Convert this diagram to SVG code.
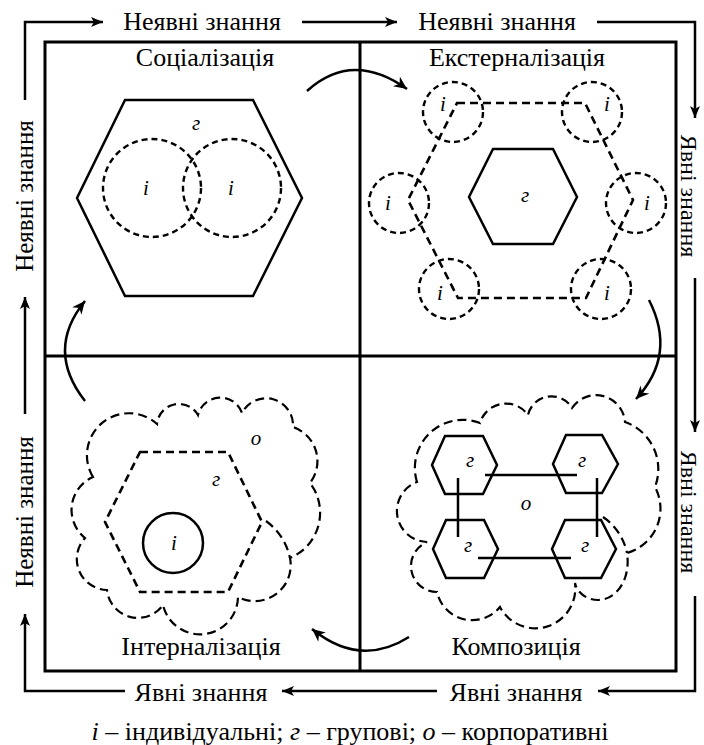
<svg xmlns="http://www.w3.org/2000/svg" width="704" height="745" viewBox="0 0 704 745">
<defs>
<style>
text{font-family:"Liberation Serif","Times New Roman",serif;fill:#000}
.t{font-size:26px;text-anchor:middle}
.tr{font-size:25px;text-anchor:middle}
.tr2{font-size:24px;text-anchor:middle}
.it{font-size:21px;font-style:italic;text-anchor:middle}
.ln{fill:none;stroke:#000;stroke-width:2.5}
.fr{fill:none;stroke:#000;stroke-width:3}
.dc{fill:none;stroke:#000;stroke-width:2.4;stroke-dasharray:6 4}
.dh{fill:none;stroke:#000;stroke-width:2.6;stroke-dasharray:8 5}
.cl{fill:none;stroke:#000;stroke-width:2.2;stroke-dasharray:9 5}
.arr{fill:none;stroke:#000;stroke-width:2.5;marker-end:url(#ah)}
.carr{fill:none;stroke:#000;stroke-width:2.5;marker-end:url(#ch)}
</style>
<marker id="ah" markerUnits="userSpaceOnUse" markerWidth="14" markerHeight="12" refX="12" refY="5" orient="auto">
<path d="M0,0 L12,5 L0,10 L3,5 Z" fill="#000"/>
</marker>
<marker id="ch" markerUnits="userSpaceOnUse" markerWidth="16" markerHeight="14" refX="13" refY="6" orient="auto">
<path d="M0,0 L13,6 L0,12 L4,6 Z" fill="#000"/>
</marker>
</defs>
<rect width="704" height="745" fill="#fff"/>

<g id="frame">
<rect class="fr" x="45" y="42" width="631" height="629"/>
<line class="fr" x1="360" y1="42" x2="360" y2="671"/>
<line class="fr" x1="45" y1="356" x2="676" y2="356"/>
</g>

<g id="connectors">
<polyline class="arr" points="25,100 25,22 103,22"/>
<line class="arr" x1="302" y1="22" x2="397" y2="22"/>
<polyline class="arr" points="597,22 695,22 695,118"/>
<line class="arr" x1="695" y1="278" x2="695" y2="432"/>
<polyline class="arr" points="695,596 695,691 598,691"/>
<line class="arr" x1="437" y1="691" x2="282" y2="691"/>
<polyline class="arr" points="125,691 25,691 25,614"/>
<line class="arr" x1="25" y1="414" x2="25" y2="297"/>
<path class="carr" d="M307,91 Q352,50 407,89"/>
<path class="carr" d="M649,300 Q677,355 636,399"/>
<path class="carr" d="M409,637 Q360,668 312,629"/>
<path class="carr" d="M85,401 Q45,350 85,301"/>
</g>

<g id="outer-labels">
<text class="t" x="202" y="30">Неявні знання</text>
<text class="t" x="497" y="30">Неявні знання</text>
<text class="t" x="201" y="701">Явні знання</text>
<text class="t" x="516" y="701">Явні знання</text>
<text class="tr" transform="translate(33,196) rotate(-90)">Неявні знання</text>
<text class="tr" transform="translate(33,512) rotate(-90)">Неявні знання</text>
<text class="tr2" transform="translate(681,196) rotate(90)">Явні знання</text>
<text class="tr2" transform="translate(681,512) rotate(90)">Явні знання</text>
</g>

<g id="socialization">
<text class="t" x="205" y="66">Соціалізація</text>
<polygon class="ln" points="125,100 253,100 302,198 253,296 125,296 77,198"/>
<circle class="dc" cx="152" cy="188" r="49"/>
<circle class="dc" cx="232" cy="188" r="49"/>
<text class="it" x="196" y="130">г</text>
<text class="it" x="146" y="195">i</text>
<text class="it" x="231" y="195">i</text>
</g>

<g id="externalization">
<text class="t" x="517" y="66">Екстерналізація</text>
<polygon class="dh" points="457,103 585,103 633,200 586,298 458,298 408,200"/>
<circle class="dc" cx="453" cy="112" r="30"/>
<circle class="dc" cx="592" cy="112" r="30"/>
<circle class="dc" cx="399" cy="203" r="30"/>
<circle class="dc" cx="636" cy="203" r="30"/>
<circle class="dc" cx="449" cy="289" r="30"/>
<circle class="dc" cx="601" cy="289" r="30"/>
<polygon class="ln" points="493,149 553,149 577,197 553,244 493,244 469,197"/>
<text class="it" x="525" y="202">г</text>
<text class="it" x="443" y="111">i</text>
<text class="it" x="607" y="111">i</text>
<text class="it" x="388" y="210">i</text>
<text class="it" x="647" y="210">i</text>
<text class="it" x="440" y="300">i</text>
<text class="it" x="607" y="300">i</text>
</g>

<g id="internalization">
<text class="t" x="201" y="655">Інтерналізація</text>
<path class="cl" d="M93,477 A42,42 0 0 1 157,424 A22,22 0 0 1 198,415 A23,23 0 0 1 242,413 A27,27 0 0 1 293,427 A36,36 0 0 1 310,483 A49,49 0 0 1 290,558 A36,36 0 0 1 238,597 A38,38 0 0 1 163,605 A31,31 0 0 1 107,590 A31,31 0 0 1 85,538 A36,36 0 0 1 93,477 Z"/>
<path class="cl" d="M266,521 Q285,535 290,558"/>
<polygon class="dh" points="140,452 228,452 262,522 228,592 140,592 105,522"/>
<circle class="ln" cx="173" cy="543" r="30"/>
<text class="it" x="256" y="445">о</text>
<text class="it" x="216" y="486">г</text>
<text class="it" x="174" y="550">i</text>
</g>

<g id="composition">
<text class="t" x="516" y="655">Композиція</text>
<path class="cl" d="M417,482 A48,48 0 0 1 480,423 A27,27 0 0 1 528,415 A24,24 0 0 1 572,408 A29,29 0 0 1 625,422 A50,50 0 0 1 655,487 A46,46 0 0 1 627,553 C631,580 616,600 598,600 C587,600 577,593 575,583 A40,40 0 0 1 500,607 A36,36 0 0 1 437,592 A26,26 0 0 1 427,542 A31,31 0 0 1 417,482 Z"/>
<path class="cl" d="M603,517 C615,525 624,538 627,553"/>
<polygon class="ln" points="445,436 483,436 497,465 483,494 445,494 432,465"/>
<polygon class="ln" points="566,435 602,435 618,464 602,493 566,493 553,464"/>
<polygon class="ln" points="446,520 484,520 498,549 484,578 446,578 433,549"/>
<polygon class="ln" points="565,520 601,520 616,549 601,578 565,578 552,549"/>
<line class="ln" x1="485" y1="475" x2="577" y2="475"/>
<line class="ln" x1="458" y1="478" x2="458" y2="537"/>
<line class="ln" x1="597" y1="478" x2="597" y2="537"/>
<line class="ln" x1="478" y1="558" x2="571" y2="558"/>
<text class="it" x="470" y="467">г</text>
<text class="it" x="582" y="467">г</text>
<text class="it" x="468" y="552">г</text>
<text class="it" x="585" y="552">г</text>
<text class="it" x="526" y="510">о</text>
</g>

<g id="legend">
<text class="t" x="350" y="740"><tspan font-style="italic">i</tspan> – індивідуальні; <tspan font-style="italic">г</tspan> – групові; <tspan font-style="italic">о</tspan> – корпоративні</text>
</g>
</svg>
